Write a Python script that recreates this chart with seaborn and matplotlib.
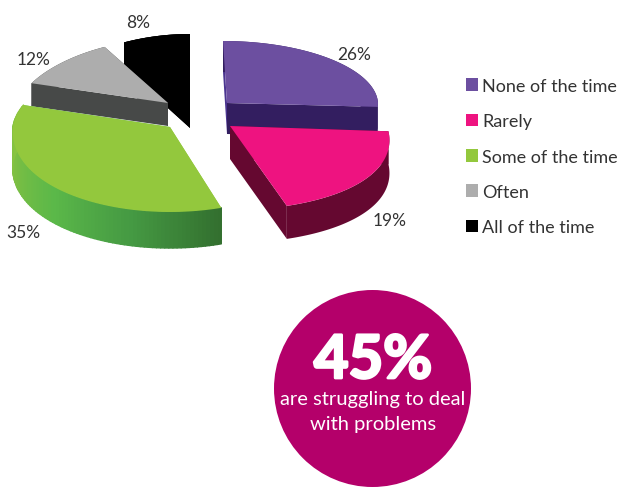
import numpy as np
import matplotlib
matplotlib.use("Agg")
import matplotlib.pyplot as plt
import matplotlib.patheffects as pe
from matplotlib.collections import PolyCollection
from matplotlib.colors import LinearSegmentedColormap
from matplotlib.patches import Circle, Patch, Polygon
import seaborn as sns

# Survey answers
categories = ["None of the time", "Rarely", "Some of the time", "Often", "All of the time"]
shares = [26, 19, 35, 12, 8]
share_labels = ["26%", "19%", "35%", "12%", "8%"]
headline = "45%"
headline_lines = ["are struggling to deal", "with problems"]

top_colors = ["#6C4FA0", "#EE1380", "#93C83D", "#ADADAD", "#000000"]
wall_colors = ["#331E60", "#650830", "#5BB849", "#474948", "#000000"]
start_wall_colors = ["#4B3590", "#650830", "#93C83D", "#474948", "#000000"]
text_color = "#333333"
badge_color = "#B4006A"

# Layout of each exploded slice, in canvas pixels
slice_geometry = {
    "None of the time": dict(apex=(227, 104), rx=151, up=62, down=62, k=0.0, lean=-4, depth=31),
    "Rarely": dict(apex=(230, 127), rx=157, up=64, down=84, k=0.18, lean=0, depth=33),
    "Some of the time": dict(apex=(170, 128), rx=157, up=71, down=85, k=0.06, lean=0, depth=36),
    "Often": dict(apex=(168, 104), rx=150, up=64, down=64, k=0.14, lean=0, depth=23),
    "All of the time": dict(apex=(190, 103), rx=156, up=68, down=68, k=0.14, lean=0, depth=26),
}
label_positions = [(354, 54.5), (390, 221.5), (23, 233.5), (34, 60), (138, 23)]
draw_order = [4, 3, 0, 1, 2]

sns.set_theme(style="white")
plt.rcParams["font.family"] = ["Lato", "DejaVu Sans"]

fig = plt.figure(figsize=(6.17, 4.89), dpi=100)
ax = fig.add_axes([0, 0, 1, 1])
ax.set_xlim(0, 617)
ax.set_ylim(489, 0)
ax.axis("off")

green_side = LinearSegmentedColormap.from_list(
    "green_side", ["#33702F", "#459A43", "#5BB849", "#7DBF43", "#8CC63F"]
)


def rim(theta, g):
    """Map clockwise-from-top angles onto the tilted disc of one slice."""
    s, c = np.sin(theta), np.cos(theta)
    x = g["apex"][0] + s * g["rx"] * (1 - g["k"] * c) + g["lean"] * np.clip(c, 0, 1)
    y = g["apex"][1] - c * np.where(c > 0, g["up"], g["down"])
    return np.column_stack([x, y])


edges = np.cumsum([0] + shares) / sum(shares) * 2 * np.pi

for rank, i in enumerate(draw_order):
    g = slice_geometry[categories[i]]
    theta = np.linspace(edges[i], edges[i + 1], 90)
    arc = rim(theta, g)
    drop = np.array([0, g["depth"]])
    apex = np.array(g["apex"], dtype=float)
    z = rank * 3

    # Radial walls, then the outer band, then the top face
    ax.add_patch(Polygon(np.array([apex, arc[0], arc[0] + drop, apex + drop]),
                         fc=start_wall_colors[i], ec="none", zorder=z + 1))
    ax.add_patch(Polygon(np.array([apex, arc[-1], arc[-1] + drop, apex + drop]),
                         fc=wall_colors[i], ec="none", zorder=z + 1))
    if categories[i] == "Some of the time":
        quads = [[arc[j], arc[j + 1], arc[j + 1] + drop, arc[j] + drop] for j in range(len(arc) - 1)]
        shade = green_side(np.linspace(0, 1, len(quads)))
        ax.add_collection(PolyCollection(quads, facecolors=shade, edgecolors=shade, linewidths=1.0,
                                         zorder=z + 2))
    else:
        ax.add_patch(Polygon(np.vstack([arc, (arc + drop)[::-1]]), fc=wall_colors[i], ec="none",
                             zorder=z + 2))
    ax.add_patch(Polygon(np.vstack([apex, arc]), fc=top_colors[i], ec="none", zorder=z + 3))
    if categories[i] == "All of the time":
        # The darkest slice reads as one solid silhouette
        ax.add_patch(Polygon(np.vstack([apex + drop, arc[0] + drop, arc, arc[-1] + drop]),
                             fc=top_colors[i], ec="none", zorder=z + 3))

for text, (x, y) in zip(share_labels, label_positions):
    ax.text(x, y, text, fontsize=12.5, color=text_color, ha="center", va="center", zorder=30)

handles = [Patch(fc=c, ec="none", label=n) for c, n in zip(top_colors, categories)]
ax.legend(handles=handles, loc="upper left", bbox_to_anchor=(466, 79), bbox_transform=ax.transData,
          frameon=False, fontsize=13, handlelength=0.68, handleheight=0.68, handletextpad=0.21,
          labelspacing=1.07, borderpad=0, borderaxespad=0, labelcolor=text_color)

# Call-out badge
ax.add_patch(Circle((372.5, 389.5), 98.5, fc=badge_color, ec="none", zorder=31))
ax.text(373, 362, headline, fontsize=43, fontweight="bold", color="white", ha="center", va="center",
        zorder=32, path_effects=[pe.withStroke(linewidth=2, foreground="white")])
ax.text(372.5, 405, headline_lines[0], fontsize=14.5, color="white",
        ha="center", va="baseline", zorder=32)
ax.text(373, 430, headline_lines[1], fontsize=14.5, color="white",
        ha="center", va="baseline", zorder=32)

fig.savefig("out.png", dpi=100, facecolor="white")
